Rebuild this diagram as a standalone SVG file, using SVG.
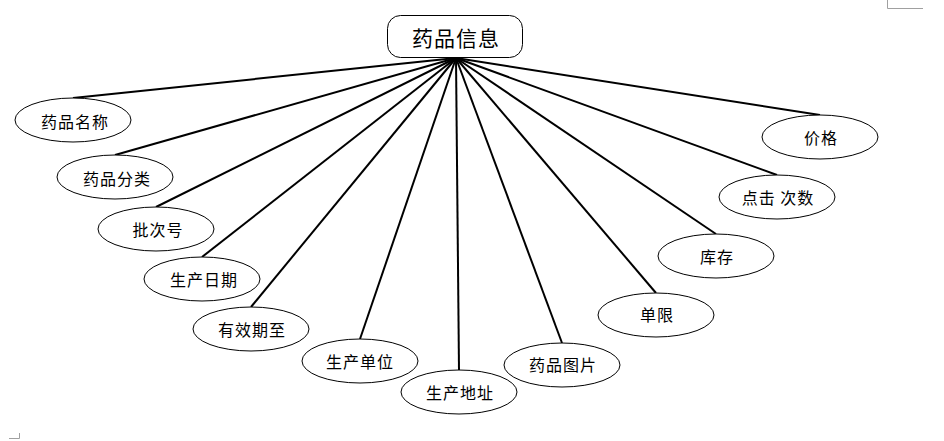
<svg xmlns="http://www.w3.org/2000/svg" width="944" height="441" viewBox="0 0 944 441">
<style>
.e{fill:#fff;stroke:#000;stroke-width:1}
.t{font-family:"Noto Sans CJK SC","Noto Sans",sans-serif;font-size:16px;letter-spacing:1px;fill:#000;text-anchor:middle;dominant-baseline:central}
.c{stroke:#000;stroke-width:2;fill:none}
.m{stroke:#a0a0a0;stroke-width:1;fill:none}
</style>
<rect width="944" height="441" fill="#fff"/>
<path class="m" d="M887.5 0V8.5H923"/>
<path class="m" d="M9 438.5H19.5V433"/>
<g id="connectors">
<line class="c" x1="456" y1="58" x2="73" y2="98"/>
<line class="c" x1="456" y1="58" x2="115" y2="155"/>
<line class="c" x1="456" y1="58" x2="156" y2="207"/>
<line class="c" x1="456" y1="58" x2="202" y2="257"/>
<line class="c" x1="456" y1="58" x2="251" y2="307"/>
<line class="c" x1="456" y1="58" x2="360" y2="339"/>
<line class="c" x1="456" y1="58" x2="459" y2="370"/>
<line class="c" x1="456" y1="58" x2="562" y2="343"/>
<line class="c" x1="456" y1="58" x2="656" y2="293"/>
<line class="c" x1="456" y1="58" x2="716" y2="234"/>
<line class="c" x1="456" y1="58" x2="777" y2="175"/>
<line class="c" x1="456" y1="58" x2="820" y2="115"/>
</g>
<g id="root"><rect x="387.5" y="15.5" width="135" height="42" rx="13" fill="#fff" stroke="#000" stroke-width="1"/><text class="t" x="456" y="37" style="font-size:21px">药品信息</text></g>
<g id="n1"><ellipse class="e" cx="73" cy="120" rx="58" ry="22"/><text class="t" x="75" y="121">药品名称</text></g>
<g id="n2"><ellipse class="e" cx="115" cy="177" rx="58" ry="22"/><text class="t" x="117" y="178">药品分类</text></g>
<g id="n3"><ellipse class="e" cx="156" cy="229" rx="58" ry="22"/><text class="t" x="158" y="229">批次号</text></g>
<g id="n4"><ellipse class="e" cx="202" cy="279" rx="58" ry="22"/><text class="t" x="204" y="279">生产日期</text></g>
<g id="n5"><ellipse class="e" cx="251" cy="329" rx="58" ry="22"/><text class="t" x="252" y="329">有效期至</text></g>
<g id="n6"><ellipse class="e" cx="360" cy="361" rx="58" ry="22"/><text class="t" x="360" y="361">生产单位</text></g>
<g id="n7"><ellipse class="e" cx="459" cy="392" rx="58" ry="22"/><text class="t" x="460" y="392">生产地址</text></g>
<g id="n8"><ellipse class="e" cx="562" cy="365" rx="58" ry="22"/><text class="t" x="563" y="364">药品图片</text></g>
<g id="n9"><ellipse class="e" cx="656" cy="315" rx="58" ry="22"/><text class="t" x="657" y="314">单限</text></g>
<g id="n10"><ellipse class="e" cx="716" cy="256" rx="58" ry="22"/><text class="t" x="717" y="256">库存</text></g>
<g id="n11"><ellipse class="e" cx="777" cy="197" rx="58" ry="22"/><text class="t" x="778" y="197">点击 次数</text></g>
<g id="n12"><ellipse class="e" cx="820" cy="137" rx="58" ry="22"/><text class="t" x="821" y="137">价格</text></g>
</svg>
